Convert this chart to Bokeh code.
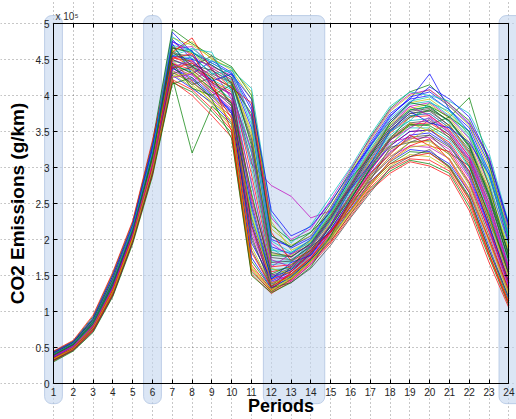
from bokeh.plotting import figure
from bokeh.models import (BoxAnnotation, Label, LinearAxis, FixedTicker, Range1d)
from bokeh.embed import file_html
from bokeh.resources import INLINE

periods = list(range(1, 25))
x_tick_labels = [str(v) for v in periods]
y_ticks = [0, 0.5, 1, 1.5, 2, 2.5, 3, 3.5, 4, 4.5, 5]
y_tick_labels = ["0", "0.5", "1", "1.5", "2", "2.5", "3", "3.5", "4", "4.5", "5"]

# CO2 emissions per simulation run (x 10^5 g/km), periods 1..24
run01 = [0.44,0.58,0.90,1.50,2.20,3.30,4.88,4.60,4.45,4.30,3.80,2.00,1.90,2.05,2.45,2.90,3.35,3.75,3.95,4.00,3.80,3.50,2.90,2.05]
run02 = [0.32,0.47,0.74,1.24,1.98,2.92,4.18,4.05,3.78,3.48,1.55,1.28,1.45,1.70,1.98,2.35,2.70,2.95,3.10,3.05,2.92,2.45,1.75,1.08]
run03 = [0.38,0.52,0.82,1.36,2.10,3.12,4.55,4.40,4.20,4.05,2.60,1.55,1.62,1.85,2.20,2.62,3.05,3.40,3.60,3.62,3.45,3.05,2.30,1.50]
run04 = [0.41,0.55,0.86,1.42,2.15,3.20,4.70,4.62,4.35,4.20,3.20,1.70,1.70,1.92,2.30,2.75,3.18,3.55,3.80,3.85,3.62,3.30,2.62,1.80]
run05 = [0.35,0.50,0.78,1.30,2.03,3.00,4.35,4.20,3.95,3.70,2.10,1.40,1.52,1.75,2.08,2.48,2.85,3.15,3.30,3.28,3.12,2.70,1.98,1.25]
run06 = [0.40,0.54,0.84,1.40,2.12,3.18,4.62,4.75,4.50,4.38,4.05,2.25,1.85,1.98,2.35,2.80,3.25,3.65,3.90,3.95,3.75,3.45,2.85,2.00]
run07 = [0.36,0.50,0.80,1.32,2.06,3.05,4.45,4.30,4.10,3.85,1.85,1.35,1.50,1.72,2.05,2.45,2.88,3.20,3.42,3.45,3.28,2.95,2.20,1.40]
run08 = [0.43,0.57,0.88,1.46,2.18,3.25,4.78,4.50,4.42,4.25,3.55,1.90,1.80,2.00,2.40,2.85,3.30,3.70,3.98,4.05,3.85,3.60,3.05,2.15]
run09 = [0.33,0.48,0.76,1.27,2.00,2.95,4.25,3.20,3.85,3.60,1.70,1.32,1.48,1.72,2.02,2.40,2.78,3.05,3.22,3.20,3.02,2.60,1.85,1.15]
run10 = [0.39,0.53,0.83,1.38,2.11,3.15,4.52,4.48,4.25,4.12,2.90,1.62,1.65,1.88,2.25,2.68,3.10,3.48,3.70,3.72,3.52,3.15,2.45,1.62]
run11 = [0.37,0.51,0.81,1.34,2.08,3.08,4.40,4.35,4.15,3.95,2.40,1.45,1.55,1.80,2.15,2.55,2.98,3.32,3.55,3.55,3.38,3.00,2.25,1.45]
run12 = [0.42,0.56,0.87,1.44,2.17,3.22,4.65,4.68,4.40,4.28,3.70,1.95,1.75,1.95,2.32,2.78,3.22,3.62,3.85,3.90,3.70,3.40,2.75,1.95]
run13 = [0.34,0.49,0.77,1.28,2.02,2.98,4.30,4.12,3.88,3.55,1.62,1.30,1.47,1.70,2.00,2.38,2.75,3.02,3.18,3.15,2.98,2.55,1.80,1.12]
run14 = [0.40,0.55,0.85,1.41,2.14,3.19,4.58,4.55,4.30,4.18,3.35,1.75,1.72,1.90,2.28,2.72,3.15,3.52,3.75,3.80,3.58,3.22,2.55,1.70]
run15 = [0.36,0.51,0.79,1.31,2.05,3.02,4.38,4.25,4.02,3.80,2.25,1.42,1.55,1.78,2.12,2.52,2.92,3.25,3.45,3.48,3.30,2.88,2.15,1.35]
run16 = [0.44,0.59,0.93,1.53,2.24,3.35,4.92,4.72,4.55,4.40,4.00,2.20,1.98,2.10,2.50,2.95,3.42,3.82,4.05,4.15,3.88,3.65,3.10,2.20]
run17 = [0.31,0.46,0.73,1.23,1.96,2.90,4.20,4.00,3.72,3.42,1.52,1.25,1.42,1.65,1.95,2.32,2.68,2.92,3.08,3.02,2.88,2.40,1.68,1.05]
run18 = [0.38,0.53,0.82,1.37,2.09,3.10,4.48,4.42,4.22,4.08,2.75,1.58,1.60,1.85,2.22,2.65,3.08,3.45,3.65,3.68,3.48,3.10,2.38,1.55]
run19 = [0.39,0.54,0.84,1.39,2.12,3.14,4.50,4.40,4.18,4.00,3.05,2.75,2.60,2.30,2.40,2.70,3.12,3.50,3.72,3.75,3.55,3.20,2.50,1.65]
run20 = [0.41,0.56,0.86,1.43,2.16,3.21,4.68,4.58,4.38,4.22,3.45,1.80,1.78,1.98,2.35,2.80,3.22,3.60,3.82,3.88,3.68,3.35,2.70,1.85]
run21 = [0.35,0.50,0.78,1.29,2.04,3.00,4.32,4.18,3.98,3.75,2.00,1.38,1.50,1.74,2.06,2.46,2.85,3.12,3.35,3.38,3.18,2.78,2.05,1.28]
run22 = [0.42,0.57,0.89,1.47,2.19,3.26,4.72,4.30,4.48,4.32,3.85,2.05,1.88,2.02,2.42,2.88,3.32,3.72,3.95,4.30,3.80,3.55,2.95,2.10]
run23 = [0.37,0.52,0.80,1.33,2.07,3.06,4.42,4.32,4.08,3.90,2.30,1.48,1.58,1.82,2.18,2.60,3.02,3.38,3.58,3.60,3.70,3.97,3.05,2.00]
run24 = [0.33,0.47,0.75,1.26,1.99,2.94,4.22,4.08,3.82,3.52,1.58,1.27,1.44,1.68,1.97,2.36,2.72,2.98,3.12,3.10,2.95,2.50,1.78,1.10]
run25 = [0.40,0.55,0.85,1.40,2.13,3.16,4.60,4.65,4.45,4.30,3.60,1.85,1.82,1.96,2.36,2.80,3.25,3.62,3.88,3.92,3.72,3.42,2.80,1.90]
run26 = [0.36,0.50,0.79,1.30,2.04,3.03,4.40,4.28,4.05,3.82,2.15,1.40,1.52,1.76,2.10,2.50,2.90,3.22,3.40,3.42,3.25,2.85,2.10,1.32]
run27 = [0.43,0.58,0.90,1.48,2.20,3.28,4.80,4.70,4.52,4.35,3.95,2.15,1.92,2.05,2.45,2.92,3.38,3.78,4.00,4.08,3.85,3.58,3.00,2.12]
run28 = [0.38,0.52,0.82,1.35,2.09,3.11,4.50,4.38,4.18,4.02,2.50,1.50,1.60,1.83,2.20,2.62,3.05,3.42,3.62,3.65,3.45,3.08,2.32,1.52]
run29 = [0.34,0.48,0.76,1.27,2.01,2.96,4.28,4.10,3.90,3.62,1.75,1.33,1.48,1.72,2.03,2.42,2.80,3.08,3.25,3.22,3.05,2.65,1.90,1.18]
run30 = [0.41,0.56,0.87,1.44,2.16,3.23,4.66,4.60,4.42,4.25,3.30,1.78,1.76,1.95,2.33,2.76,3.20,3.58,3.80,3.84,3.64,3.28,2.62,1.78]
run31 = [0.37,0.51,0.81,1.34,2.07,3.07,4.44,4.36,4.12,3.92,2.20,1.44,1.56,1.80,2.14,2.55,2.96,3.30,3.50,3.52,3.35,2.95,2.20,1.42]
run32 = [0.39,0.54,0.84,1.39,2.12,3.16,4.56,4.52,4.32,4.15,3.00,1.65,1.68,1.90,2.26,2.70,3.12,3.50,3.72,3.75,3.55,3.18,2.48,1.65]
run33 = [0.42,0.57,0.88,1.45,2.18,3.24,4.75,4.55,4.38,4.22,3.70,2.30,2.00,2.15,2.55,2.98,3.40,3.80,4.02,4.08,3.88,3.62,3.15,2.18]
run34 = [0.35,0.49,0.77,1.29,2.03,2.99,4.34,4.15,3.92,3.65,1.90,1.36,1.50,1.74,2.06,2.46,2.86,3.15,3.35,3.36,3.18,2.75,2.00,1.25]
run35 = [0.40,0.54,0.85,1.41,2.14,3.18,4.62,4.45,4.28,4.10,3.10,1.68,1.70,1.92,2.28,2.72,3.15,3.52,3.75,3.78,3.58,3.25,2.58,1.72]
run36 = [0.36,0.51,0.80,1.32,2.06,3.04,4.38,4.22,4.00,3.78,2.45,1.46,1.58,1.80,2.14,2.56,2.98,3.30,3.50,3.52,3.32,2.92,2.18,1.40]
run37 = [0.30,0.45,0.71,1.21,1.94,2.88,4.16,4.25,3.95,3.40,1.50,1.26,1.40,1.62,2.05,2.55,3.00,3.40,3.70,3.80,3.65,3.30,2.60,1.70]
run38 = [0.45,0.60,0.95,1.55,2.26,3.38,4.60,4.80,4.35,4.10,3.90,2.10,1.70,1.85,2.10,2.45,2.80,3.05,3.15,3.20,3.00,2.55,1.80,1.12]
run39 = [0.37,0.52,0.83,1.36,2.08,3.12,4.35,4.55,4.30,4.35,4.10,2.35,1.95,2.20,2.60,3.00,3.45,3.85,4.05,4.00,3.92,3.75,3.20,2.22]
run40 = [0.39,0.52,0.80,1.33,2.10,3.05,4.48,4.20,4.38,3.95,2.80,1.52,1.42,1.66,2.00,2.52,2.95,3.35,3.42,3.68,3.40,3.12,2.40,1.55]
run41 = [0.34,0.50,0.79,1.30,2.02,3.08,4.62,4.35,4.05,4.20,3.50,1.60,1.52,1.78,2.25,2.60,3.10,3.30,3.62,3.50,3.60,3.20,2.70,1.85]
run42 = [0.42,0.55,0.86,1.40,2.15,3.14,4.30,4.40,4.55,4.15,2.20,1.35,1.62,1.90,2.10,2.50,2.82,3.28,3.35,3.45,3.20,3.02,2.25,1.60]
run43 = [0.36,0.49,0.78,1.35,2.12,3.25,4.75,4.62,4.10,3.75,1.95,1.45,1.68,1.78,2.20,2.70,3.05,3.50,3.78,3.62,3.55,3.35,2.90,1.95]
run44 = [0.41,0.57,0.89,1.45,2.16,3.18,4.45,4.10,4.00,4.15,3.75,2.05,1.90,2.10,2.38,2.85,3.15,3.62,3.90,3.85,3.70,3.50,2.75,1.75]
run45 = [0.33,0.48,0.75,1.25,1.98,2.92,4.38,4.45,4.20,3.50,1.65,1.30,1.55,1.82,2.12,2.40,2.75,3.10,3.30,3.40,3.10,2.65,2.00,1.30]
run46 = [0.40,0.56,0.86,1.42,2.18,3.22,4.55,4.65,4.60,4.05,3.20,1.88,1.70,1.95,2.28,2.68,3.02,3.50,3.65,3.90,3.78,3.45,2.95,2.05]
run47 = [0.38,0.51,0.81,1.33,2.05,3.02,4.25,4.30,4.05,3.90,2.55,1.62,1.80,1.92,2.30,2.75,3.20,3.55,3.85,3.72,3.50,3.15,2.50,1.60]
run48 = [0.35,0.50,0.80,1.31,2.03,3.10,4.50,4.20,3.90,3.72,2.35,1.40,1.46,1.70,2.02,2.50,2.90,3.25,3.38,3.55,3.30,2.90,2.30,1.45]
run49 = [0.32,0.46,0.72,1.22,1.97,2.93,4.40,4.15,4.25,3.85,2.05,1.33,1.40,1.60,1.92,2.30,2.65,3.00,3.15,3.25,3.00,2.58,1.85,1.20]
run50 = [0.43,0.58,0.91,1.50,2.21,3.30,4.55,4.50,4.20,4.30,3.95,2.40,2.05,2.18,2.52,2.92,3.30,3.65,3.90,4.12,3.95,3.70,3.12,2.20]
run51 = [0.39,0.54,0.83,1.37,2.10,3.13,4.68,4.40,4.25,3.88,2.65,1.52,1.64,1.86,2.18,2.58,2.98,3.38,3.60,3.58,3.42,3.02,2.35,1.52]
run52 = [0.35,0.49,0.78,1.30,2.05,3.02,4.52,4.58,4.12,3.68,1.82,1.34,1.52,1.74,2.10,2.52,2.92,3.18,3.45,3.30,3.22,2.80,2.12,1.38]
run53 = [0.41,0.55,0.87,1.43,2.15,3.21,4.82,4.60,4.48,4.38,3.65,1.98,1.82,2.00,2.38,2.82,3.28,3.68,3.92,3.98,3.80,3.48,2.88,2.02]
run54 = [0.37,0.52,0.80,1.34,2.08,3.06,4.40,4.48,4.15,4.02,3.25,1.72,1.62,1.84,2.20,2.62,3.02,3.38,3.55,3.70,3.48,3.12,2.42,1.58]
run55 = [0.34,0.48,0.77,1.27,2.01,2.97,4.26,4.32,4.02,3.62,1.60,1.29,1.46,1.70,2.02,2.40,2.78,3.08,3.28,3.32,3.12,2.68,1.95,1.22]
run56 = [0.40,0.55,0.86,1.41,2.13,3.17,4.60,4.42,4.35,4.18,3.40,1.82,1.76,1.94,2.30,2.74,3.18,3.55,3.78,3.82,3.65,3.32,2.65,1.80]

runs = [run01, run02, run03, run04, run05, run06, run07, run08, run09, run10, run11, run12,
        run13, run14, run15, run16, run17, run18, run19, run20, run21, run22, run23, run24,
        run25, run26, run27, run28, run29, run30, run31, run32, run33, run34, run35, run36,
        run37, run38, run39, run40, run41, run42, run43, run44, run45, run46, run47, run48,
        run49, run50, run51, run52, run53, run54, run55, run56]

# MATLAB-style colour order
line_colors = ["#0000ff", "#008000", "#ff0000", "#00bfbf", "#bf00bf", "#bfbf00", "#404040"]

# highlighted period windows (start, end)
band_starts = [0.55, 5.55, 11.6, 23.5]
band_ends = [1.45, 6.45, 14.7, 24.8]

W, H = 516, 419
PX_X = 19.8   # pixels per period
PX_Y = 72.0   # pixels per 1e5 g/km
x_lo = 1 - 53 / PX_X
x_hi = 1 + (W - 53) / PX_X
y_lo = 0 - (H - 383) / PX_Y
y_hi = 5 + 23 / PX_Y

p = figure(width=W, height=H, output_backend="svg", toolbar_location=None,
           x_range=Range1d(x_lo, x_hi), y_range=Range1d(y_lo, y_hi),
           min_border_left=0, min_border_right=0, min_border_top=0, min_border_bottom=0)
p.outline_line_color = None
p.background_fill_color = "white"

for b0, b1 in zip(band_starts, band_ends):
    p.add_layout(BoxAnnotation(left=b0, right=b1, top=5.11, bottom=-0.28,
                               fill_color="#c3d5ee", fill_alpha=0.6,
                               line_color="#a9bfdf", line_alpha=0.7, line_width=1,
                               border_radius=7, level="underlay"))

for i, r in enumerate(runs):
    p.line(periods, r, line_color=line_colors[i % len(line_colors)], line_width=0.8, line_alpha=0.9)

font = "Liberation Sans"
xa = p.xaxis[0]
ya = p.yaxis[0]
xa.fixed_location = 0
ya.fixed_location = 1
xa.bounds = (1, 24)
ya.bounds = (0, 5)
xa.ticker = FixedTicker(ticks=periods)
xa.major_label_overrides = {v: s for v, s in zip(periods, x_tick_labels)}
xa.axis_label = "Periods"
xa.axis_label_text_font_size = "18px"
xa.axis_label_standoff = -3
ya.ticker = FixedTicker(ticks=y_ticks)
ya.major_label_overrides = {v: s for v, s in zip(y_ticks, y_tick_labels)}
ya.axis_label = "CO2 Emissions (g/km)"
ya.axis_label_text_font_size = "19px"
ya.axis_label_standoff = 5
for ax in (xa, ya):
    ax.axis_label_text_font = font
    ax.axis_label_text_font_style = "bold"
    ax.axis_label_text_color = "black"
    ax.major_label_text_font = font
    ax.major_label_text_font_size = "10px"
    ax.major_label_text_color = "#222222"
    ax.major_label_standoff = 4

top_ax = LinearAxis(ticker=FixedTicker(ticks=periods), fixed_location=5, bounds=(1, 24),
                    major_label_overrides={v: "" for v in periods})
right_ax = LinearAxis(ticker=FixedTicker(ticks=y_ticks), fixed_location=24, bounds=(0, 5),
                      major_label_overrides={v: "" for v in y_ticks})
p.add_layout(top_ax, "above")
p.add_layout(right_ax, "right")

for ax in (xa, ya, top_ax, right_ax):
    ax.major_tick_in = 4
    ax.major_tick_out = 0
    ax.minor_tick_in = 0
    ax.minor_tick_out = 0
    ax.axis_line_color = "black"
    ax.major_tick_line_color = "black"

p.xgrid.ticker = FixedTicker(ticks=periods)
p.ygrid.ticker = FixedTicker(ticks=y_ticks)
p.xgrid.bounds = (0, 5)
p.ygrid.bounds = (1, 24)
for g in (p.xgrid[0], p.ygrid[0]):
    g.grid_line_color = "#333333"
    g.grid_line_alpha = 0.55
    g.grid_line_dash = "1 3"
    g.grid_line_width = 1

p.add_layout(Label(x=1, y=5, text="x 10⁵", x_offset=2, y_offset=2,
                   text_font=font, text_font_size="10px", text_color="#333333"))

open("out.html", "w").write(file_html(p, INLINE))
